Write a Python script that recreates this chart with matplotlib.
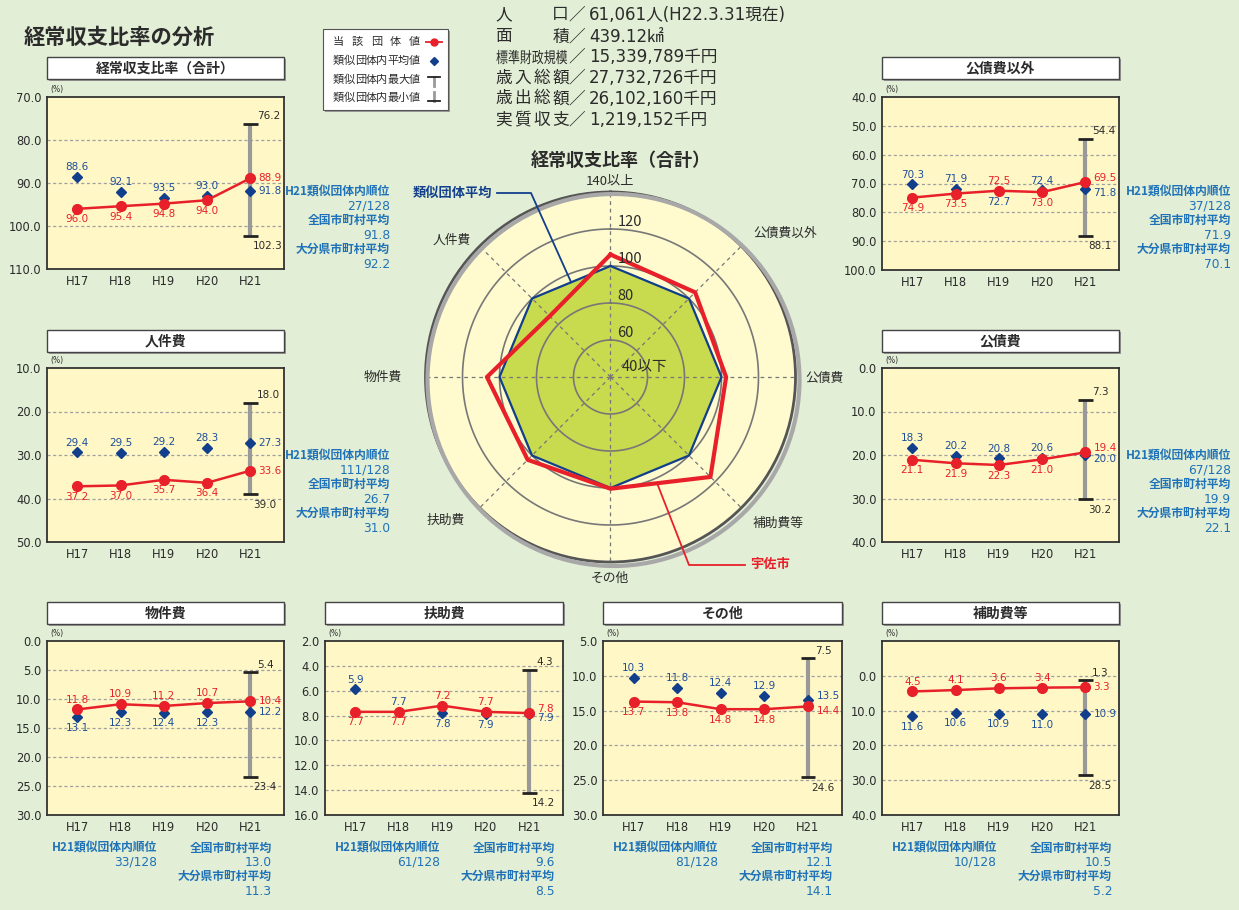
import matplotlib
matplotlib.use("Agg")
import matplotlib.pyplot as plt
from matplotlib.patches import Rectangle, PathPatch
from matplotlib.textpath import TextPath
from matplotlib.font_manager import FontProperties
from matplotlib.transforms import Affine2D
import numpy as np

plt.rcParams['font.family'] = ['Noto Sans CJK JP', 'DejaVu Sans']

W, H = 1239, 910
BG = '#E2EED5'
PANEL_BG = '#FFF8C6'
RED = '#E8202A'
NAVY = '#123F8C'
LBL_BLUE = '#1E4E9A'
NOTE_BLUE = '#1F72B8'
DARK = '#2B2B2B'
NUM_FONT = ['DejaVu Sans', 'Noto Sans CJK JP']

years = ['H17', 'H18', 'H19', 'H20', 'H21']

# 経常収支比率（合計）
total_town = [96.0, 95.4, 94.8, 94.0, 88.9]
total_avg = [88.6, 92.1, 93.5, 93.0, 91.8]
total_max, total_min = 76.2, 102.3
total_notes = ['27/128', '91.8', '92.2']

# 人件費
personnel_town = [37.2, 37.0, 35.7, 36.4, 33.6]
personnel_avg = [29.4, 29.5, 29.2, 28.3, 27.3]
personnel_max, personnel_min = 18.0, 39.0
personnel_notes = ['111/128', '26.7', '31.0']

# 公債費以外
nondebt_town = [74.9, 73.5, 72.5, 73.0, 69.5]
nondebt_avg = [70.3, 71.9, 72.7, 72.4, 71.8]
nondebt_max, nondebt_min = 54.4, 88.1
nondebt_notes = ['37/128', '71.9', '70.1']

# 公債費
debt_town = [21.1, 21.9, 22.3, 21.0, 19.4]
debt_avg = [18.3, 20.2, 20.8, 20.6, 20.0]
debt_max, debt_min = 7.3, 30.2
debt_notes = ['67/128', '19.9', '22.1']

# 物件費
goods_town = [11.8, 10.9, 11.2, 10.7, 10.4]
goods_avg = [13.1, 12.3, 12.4, 12.3, 12.2]
goods_max, goods_min = 5.4, 23.4
goods_notes = ['33/128', '13.0', '11.3']

# 扶助費
aid_town = [7.7, 7.7, 7.2, 7.7, 7.8]
aid_avg = [5.9, 7.7, 7.8, 7.9, 7.9]
aid_max, aid_min = 4.3, 14.2
aid_notes = ['61/128', '9.6', '8.5']

# その他
other_town = [13.7, 13.8, 14.8, 14.8, 14.4]
other_avg = [10.3, 11.8, 12.4, 12.9, 13.5]
other_max, other_min = 7.5, 24.6
other_notes = ['81/128', '12.1', '14.1']

# 補助費等
subsidy_town = [4.5, 4.1, 3.6, 3.4, 3.3]
subsidy_avg = [11.6, 10.6, 10.9, 11.0, 10.9]
subsidy_max, subsidy_min = 1.3, 28.5
subsidy_notes = ['10/128', '10.5', '5.2']

# レーダー（経常収支比率）
radar_axes = ['経常収支比率（合計）', '公債費以外', '公債費', '補助費等', 'その他', '扶助費', '物件費', '人件費']
radar_town = [106.2, 104.7, 102.5, 116.4, 100.4, 103.3, 106.8, 86.5]
radar_avg = [100, 100, 100, 100, 100, 100, 100, 100]
radar_rings = [60, 80, 100, 120]

info_labels = ['人口', '面積', '標準財政規模', '歳入総額', '歳出総額', '実質収支']
info_values = ['61,061人(H22.3.31現在)', '439.12㎢', '15,339,789千円',
               '27,732,726千円', '26,102,160千円', '1,219,152千円']

note_heads = ['H21類似団体内順位', '全国市町村平均', '大分県市町村平均']

fig = plt.figure(figsize=(W / 100, H / 100), dpi=100)
fig.patch.set_facecolor(BG)

# overlay in pixel coordinates for free text / boxes
ov = fig.add_axes([0, 0, 1, 1], zorder=5)
ov.set_xlim(0, W)
ov.set_ylim(H, 0)
ov.axis('off')
ov.patch.set_alpha(0)


def add_ax(x0, y0, x1, y1, **kw):
    return fig.add_axes([x0 / W, 1 - y1 / H, (x1 - x0) / W, (y1 - y0) / H], **kw)


def squeezed(x, yc, s, size, sx):
    # horizontally condensed text drawn as a path (overlay y axis points down)
    tp = TextPath((0, 0), s, size=size, prop=FontProperties(family='Noto Sans CJK JP'))
    tr = Affine2D().scale(sx, -1).translate(x, yc + 0.38 * size)
    ov.add_patch(PathPatch(tr.transform_path(tp), fc=DARK, ec='none'))


def title_box(x0, x1, y0, y1, text):
    ov.add_patch(Rectangle((x0 + 2, y0 + 2), x1 - x0, y1 - y0, fc='#9A9A9A', ec='none'))
    ov.add_patch(Rectangle((x0, y0), x1 - x0, y1 - y0, fc='white', ec='#444444', lw=1))
    ov.text((x0 + x1) / 2, (y0 + y1) / 2 + 0.5, text, ha='center', va='center',
            fontsize=10, fontweight='bold', color=DARK)


def panel(rect, tbox_y, title, town, avg, vmax, vmin, ylim, step,
          red_side, blue_side, notes, note_pos, label_top=True):
    x0, y0, x1, y1 = rect
    title_box(x0, x1, tbox_y[0], tbox_y[1], title)
    ax = add_ax(x0, y0, x1, y1)
    ax.set_facecolor(PANEL_BG)
    x = np.arange(len(years))
    ax.set_xlim(-0.7, 4.78)
    ax.set_ylim(ylim[1], ylim[0])
    ticks = np.arange(ylim[0], ylim[1] + step / 2, step)
    ax.set_yticks(ticks)
    labels = ['%.1f' % t for t in ticks]
    if not label_top:
        labels[0] = ''
    ax.set_yticklabels(labels, fontfamily=NUM_FONT, fontsize=8.3, color=DARK)
    ax.set_xticks(x)
    ax.set_xticklabels(years, fontfamily=NUM_FONT, fontsize=8.3, color=DARK)
    ax.tick_params(length=0, pad=4)
    for s in ax.spines.values():
        s.set_color('#333333')
        s.set_linewidth(1.3)
    for t in ticks[1:-1]:
        ax.axhline(t, color='#A0A0A0', lw=0.9, ls=(0, (2.5, 2)), zorder=1)
    # min / max bar
    ax.plot([4, 4], [vmax, vmin], color='#999999', lw=3, zorder=2, solid_capstyle='butt')
    for v in (vmax, vmin):
        ax.plot([3.83, 4.17], [v, v], color='#222222', lw=2, zorder=3, solid_capstyle='butt')
    ax.annotate('%.1f' % vmax, (4, vmax), xytext=(5, 2), textcoords='offset points',
                ha='left', va='bottom', fontsize=7.5, fontfamily=NUM_FONT, color=DARK)
    ax.annotate('%.1f' % vmin, (4, vmin), xytext=(2, -4), textcoords='offset points',
                ha='left', va='top', fontsize=7.5, fontfamily=NUM_FONT, color=DARK)
    ax.plot(x, avg, ls='none', marker='D', ms=5.5, color=NAVY, zorder=4)
    ax.plot(x, town, color=RED, lw=1.8, marker='o', ms=7, zorder=5)
    for i in range(4):
        for val, side, col in ((town[i], red_side[i], RED), (avg[i], blue_side[i], LBL_BLUE)):
            dy, va = (3.5, 'bottom') if side == 'a' else (-4, 'top')
            ax.annotate('%.1f' % val, (i, val), xytext=(0, dy), textcoords='offset points',
                        ha='center', va=va, fontsize=7.5, fontfamily=NUM_FONT, color=col)
    # H21 labels to the right
    sep = 3 if abs(town[4] - avg[4]) / (ylim[1] - ylim[0]) < 0.05 else 0
    up = 1 if town[4] < avg[4] else -1
    ax.annotate('%.1f' % town[4], (4, town[4]), xytext=(6, sep * up), textcoords='offset points',
                ha='left', va='center', fontsize=7.5, fontfamily=NUM_FONT, color=RED, zorder=6)
    ax.annotate('%.1f' % avg[4], (4, avg[4]), xytext=(6, -sep * up), textcoords='offset points',
                ha='left', va='center', fontsize=7.5, fontfamily=NUM_FONT, color=LBL_BLUE, zorder=6)
    ov.text(x0 + 3, y0 - 3, '(%)', fontsize=5.5, color=DARK, ha='left', va='bottom',
            fontfamily=NUM_FONT)
    # notes
    kind, a, b, ny = note_pos

    def note(xr, yy, s, head):
        if head:
            ov.text(xr, yy, s, ha='right', va='center', fontsize=8.5,
                    color=NOTE_BLUE, fontweight='bold')
        else:
            ov.text(xr, yy, s, ha='right', va='center', fontsize=8.8,
                    color=NOTE_BLUE, fontfamily=NUM_FONT)

    if kind == 'right':
        seq = [note_heads[0], notes[0], note_heads[1], notes[1], note_heads[2], notes[2]]
        for k, s in enumerate(seq):
            note(a, ny + k * 14.4, s, k % 2 == 0)
    else:
        note(a, ny, note_heads[0], True)
        note(a, ny + 14.4, notes[0], False)
        seq = [note_heads[1], notes[1], note_heads[2], notes[2]]
        for k, s in enumerate(seq):
            note(b, ny + k * 14.4, s, k % 2 == 0)
    return ax


panel((47, 97, 284, 269), (57, 79), '経常収支比率（合計）', total_town, total_avg,
      total_max, total_min, (70, 110), 10, 'bbbb', 'aaaa', total_notes, ('right', 390, 0, 192))
panel((47, 368, 284, 542), (330, 352), '人件費', personnel_town, personnel_avg,
      personnel_max, personnel_min, (10, 50), 10, 'bbbb', 'aaaa', personnel_notes, ('right', 390, 0, 456))
panel((882, 97, 1119, 270), (57, 79), '公債費以外', nondebt_town, nondebt_avg,
      nondebt_max, nondebt_min, (40, 100), 10, 'bbab', 'aaba', nondebt_notes, ('right', 1231, 0, 192))
panel((882, 368, 1119, 542), (330, 352), '公債費', debt_town, debt_avg,
      debt_max, debt_min, (0, 40), 10, 'bbbb', 'aaaa', debt_notes, ('right', 1231, 0, 456))
panel((47, 641, 284, 815), (602, 624), '物件費', goods_town, goods_avg,
      goods_max, goods_min, (0, 30), 5, 'aaaa', 'bbbb', goods_notes, ('below', 157, 272, 848))
panel((325, 641, 563, 815), (602, 624), '扶助費', aid_town, aid_avg,
      aid_max, aid_min, (2, 16), 2, 'bbaa', 'aabb', aid_notes, ('below', 440, 555, 848))
panel((603, 641, 842, 815), (602, 624), 'その他', other_town, other_avg,
      other_max, other_min, (5, 30), 5, 'bbbb', 'aaaa', other_notes, ('below', 718, 833, 848))
panel((882, 641, 1119, 815), (602, 624), '補助費等', subsidy_town, subsidy_avg,
      subsidy_max, subsidy_min, (-10, 40), 10, 'aaaa', 'bbbb', subsidy_notes, ('below', 997, 1112, 848),
      label_top=False)

# radar
cx, cy, R = 610.5, 377, 185
rad = add_ax(cx - R, cy - R, cx + R, cy + R, projection='polar')
rad.set_theta_zero_location('N')
rad.set_theta_direction(-1)
rad.set_ylim(40, 140)
rad.set_facecolor('#FFFBCF')
rad.grid(False)
rad.set_xticks([])
rad.set_yticks([])
rad.spines['polar'].set_color('#555555')
rad.spines['polar'].set_linewidth(2)
ov.add_patch(plt.Circle((cx + 3, cy + 3), R + 1, fc='none', ec='#A8A8A8', lw=3, zorder=0))
ang = np.linspace(0, 2 * np.pi, len(radar_axes), endpoint=False)
full = np.linspace(0, 2 * np.pi, 361)
for rr in radar_rings:
    rad.plot(full, [rr] * len(full), color='#777777', lw=1.2, zorder=2)
for a in ang:
    rad.plot([a, a], [40, 140], color='#777777', lw=0.9, ls=(0, (3, 3)), zorder=4)
closed = np.append(ang, ang[0])
rad.fill(closed, radar_avg + radar_avg[:1], color='#C8DA4E', zorder=1)
rad.plot(closed, radar_avg + radar_avg[:1], color=NAVY, lw=1.6, zorder=5)
rad.plot(closed, radar_town + radar_town[:1], color=RED, lw=3, zorder=6)
for rr in radar_rings:
    rad.annotate(str(rr), (0, rr), xytext=(5, 0), textcoords='offset points',
                 ha='left', va='bottom', fontsize=10.5, color=DARK, zorder=7)
rad.annotate('140以上', (0, 140), xytext=(0, 3), textcoords='offset points',
             ha='center', va='bottom', fontsize=9.5, color=DARK, annotation_clip=False)
rad.annotate('40以下', (0, 40), xytext=(8, 2), textcoords='offset points',
             ha='left', va='bottom', fontsize=10.5, color=DARK, zorder=7)

axis_pos = [None, (785, 233, 'center'), (805, 378, 'left'), (778, 523, 'center'),
            (610, 578, 'center'), (446, 520, 'center'), (402, 377, 'right'), (452, 240, 'center')]
for name, p in zip(radar_axes, axis_pos):
    if p is None:
        continue
    ov.text(p[0], p[1], name, ha=p[2], va='center', fontsize=9.2, color=DARK)

ov.text(621, 160, '経常収支比率（合計）', ha='center', va='center', fontsize=13,
        fontweight='bold', color=DARK)
ov.text(452, 193, '類似団体平均', ha='center', va='center', fontsize=9.5,
        fontweight='bold', color=NAVY)
ov.plot([497, 531, 571], [193, 193, 282], color=NAVY, lw=1.3)
ov.text(750, 564, '宇佐市', ha='left', va='center', fontsize=9.5, fontweight='bold', color=RED)
ov.plot([745, 689, 657], [565, 565, 483], color=RED, lw=1.3)

# main title
ov.text(24, 37, '経常収支比率の分析', ha='left', va='center', fontsize=15.3,
        fontweight='bold', color=DARK)

# legend box
ov.add_patch(Rectangle((325, 31), 125, 81, fc='#9A9A9A', ec='none'))
ov.add_patch(Rectangle((323, 29), 125, 81, fc='white', ec='#555555', lw=0.8))
leg_texts = ['当該団体値', '類似団体内平均値', '類似団体内最大値', '類似団体内最小値']
leg_y = [42, 61, 80, 98]
for t, yy in zip(leg_texts, leg_y):
    n = len(t)
    step = (420 - 333 - 11) / (n - 1)
    for k, ch in enumerate(t):
        ov.text(333 + 5.5 + k * step, yy, ch, ha='center', va='center', fontsize=8, color=DARK)
ov.plot([426, 442], [42, 42], color=RED, lw=1.3)
ov.plot([434], [42], marker='o', ms=5, color=RED)
ov.plot([434], [61], marker='D', ms=4, color=NAVY)
ov.plot([434, 434], [77, 86], color='#999999', lw=2)
ov.plot([428, 440], [77, 77], color='#222222', lw=1.3)
ov.plot([434, 434], [92, 101], color='#999999', lw=2)
ov.plot([428, 440], [101, 101], color='#222222', lw=1.3)

# info block
info_y = [15, 37, 57, 78, 99, 120]
for lab, val, yy in zip(info_labels, info_values, info_y):
    n = len(lab)
    if n > 4:
        squeezed(496, yy, lab, 15.5, 0.77)
    else:
        cw = 15
        for k, ch in enumerate(lab):
            xc = 496 + cw / 2 + k * (72 - cw) / (n - 1)
            ov.text(xc, yy, ch, ha='center', va='center', fontsize=12, color=DARK)
    ov.text(568, yy, '／', ha='left', va='center', fontsize=12, color=DARK)
    ov.text(589, yy, val, ha='left', va='center', fontsize=12, color=DARK, fontfamily=NUM_FONT)

fig.savefig('out.png', dpi=100, facecolor=BG)
